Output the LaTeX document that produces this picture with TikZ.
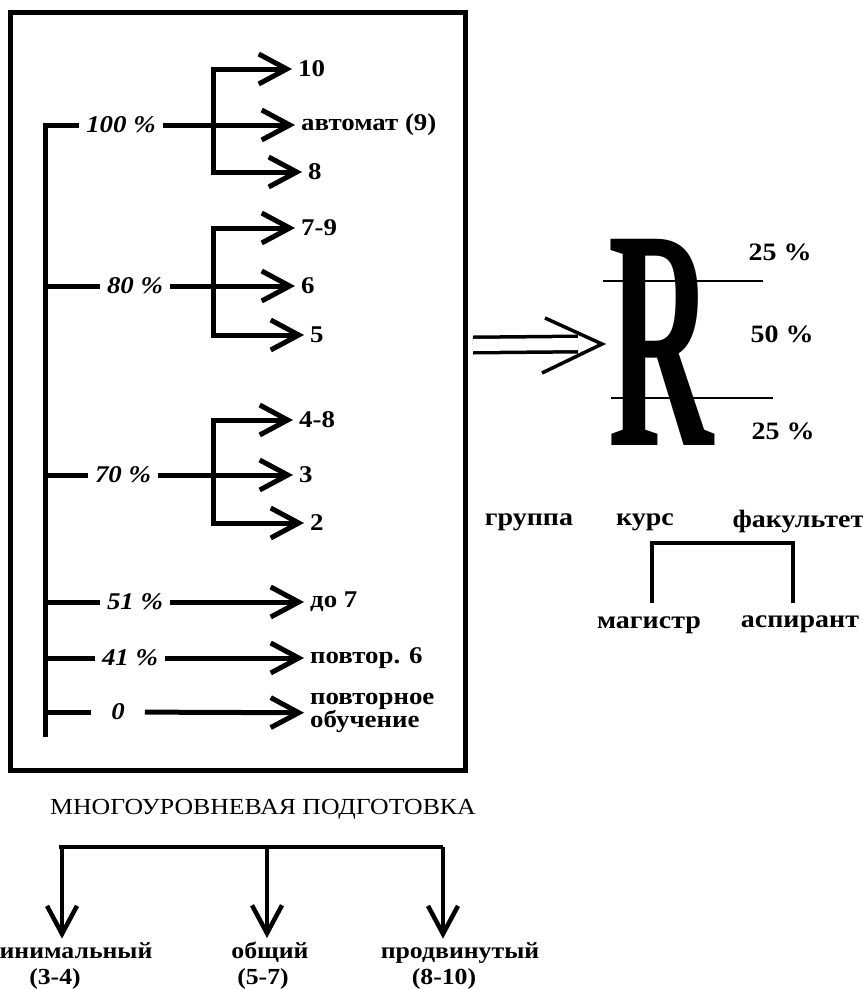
\documentclass[tikz,border=0pt]{standalone}
\usepackage{fontspec}
\setmainfont[FakeStretch=1.12]{Liberation Serif}
\usetikzlibrary{arrows.meta}

\begin{document}
\begin{tikzpicture}[x=1pt,y=-1pt,
  stem/.style={line width=5pt},
  arr/.style={line width=5pt,-{Straight Barb[length=28pt,width=30pt]}},
  pct/.style={font=\fontsize{24}{24}\selectfont\bfseries\itshape,inner xsep=7pt},
  grade/.style={font=\fontsize{24}{24}\selectfont\bfseries,anchor=west,inner xsep=6pt,inner ysep=2pt},
  share/.style={font=\fontsize{25}{25}\selectfont\bfseries},
  level/.style={font=\fontsize{23}{23}\selectfont\bfseries,anchor=base}]
  \useasboundingbox (0,0) rectangle (863,989);
  \draw [line width=5pt] (10,12) rectangle (465,770);
  % left column of percentages
  \node [pct] (p100) at (121,125) {100 \%};
  \node [pct] (p80) at (135,286) {80 \%};
  \node [pct] (p70) at (123,475) {70 \%};
  \node [pct] (p51) at (135,602) {51 \%};
  \node [pct] (p41) at (130,658) {41 \%};
  \node [pct,inner xsep=20pt] (p0) at (118,712) {0};
  % grades
  \node [grade] (g10) at (292,69) {10};
  \node [grade] (g9) at (295,125) {автомат (9)};
  \node [grade] (g8) at (302,172) {8};
  \node [grade] (g79) at (295,228) {7-9};
  \node [grade] (g6) at (295,286) {6};
  \node [grade] (g5) at (304,335) {5};
  \node [grade] (g48) at (293,420) {4-8};
  \node [grade] (g3) at (293,475) {3};
  \node [grade] (g2) at (304,523) {2};
  \node [grade] (g7) at (304,602) {до 7};
  \node [grade] (g6r) at (304,658) {повтор. 6};
  \node [grade,align=left,font=\fontsize{24}{19}\selectfont\bfseries] (gre) at (304,713) {повторное\\обучение};
  \draw [stem] (45,737) -- (45,125) -- (p100);
  \draw [stem] (45,286) -- (p80);
  \draw [stem] (45,475) -- (p70);
  \draw [stem] (45,602) -- (p51);
  \draw [stem] (45,658) -- (p41);
  \draw [stem] (45,712) -- (p0);
  \draw [arr] (p100) -- (g9);
  \draw [arr] (213,125) -- (213,69) -- (g10);
  \draw [arr] (213,125) -- (213,172) -- (g8);
  \draw [arr] (p80) -- (g6);
  \draw [arr] (213,286) -- (213,228) -- (g79);
  \draw [arr] (213,286) -- (213,335) -- (g5);
  \draw [arr] (p70) -- (g3);
  \draw [arr] (213,475) -- (213,420) -- (g48);
  \draw [arr] (213,475) -- (213,523) -- (g2);
  \draw [arr] (p51) -- (g7);
  \draw [arr] (p41) -- (g6r);
  \draw [arr] (p0) -- (gre);
  % rating R
  \node [font=\fontsize{50}{50}\selectfont\bfseries,xscale=2.6,yscale=6.3,inner sep=0] (R) at (661,342) {R};
  \coordinate (dtail) at (473,345);
  \coordinate (dtip) at (602,344);
  \draw [line width=3.5pt,double,double distance=12pt] (dtail) -- ([xshift=-24pt]dtip);
  \draw [line width=3.5pt] ([shift={(-57,-26)}]dtip) -- (dtip) -- ([shift={(-60,29)}]dtip);
  \draw [line width=1.5pt] (603,281) -- (763,281);
  \draw [line width=1.5pt] (611,398) -- (773,398);
  \node [share] (s1) at (780,252) {25 \%};
  \node [share] (s2) at (782,334) {50 \%};
  \node [share] (s3) at (783,431) {25 \%};
  \node [share] (grp) at (529,522) {группа};
  \node [share] (crs) at (645,522) {курс};
  \node [share,anchor=west] (fac) at (729,522) {факультет};
  \node [share] (mag) at (649,625) {магистр};
  \node [share] (asp) at (800,624) {аспирант};
  \coordinate (kmag) at (652,603);
  \coordinate (kasp) at (793,603);
  \draw [line width=3.5pt] (kmag) -- ++(0,-60) -| (kasp);
  % levels
  \node [font=\fontsize{23}{23}\selectfont] (title) at (263,809) {МНОГОУРОВНЕВАЯ ПОДГОТОВКА};
  \node [level,anchor=base east] (lmin) at (156,958) {минимальный};
  \node [level] (rmin) at (55,984) {(3-4)};
  \node [level] (lgen) at (270,958) {общий};
  \node [level] (rgen) at (263,984) {(5-7)};
  \node [level] (ladv) at (460,958) {продвинутый};
  \node [level] (radv) at (444,984) {(8-10)};
  \coordinate (fmin) at (62,847);
  \coordinate (fgen) at (267,847);
  \coordinate (fadv) at (443,847);
  \draw [line width=4.5pt] ([xshift=-3pt]fmin) -- (fadv);
  \draw [arr,line width=4.5pt] (fmin) -- (fmin |- lmin.north);
  \draw [arr,line width=4.5pt] (fgen) -- (fgen |- lgen.north);
  \draw [arr,line width=4.5pt] (fadv) -- (fadv |- ladv.north);
\end{tikzpicture}
\end{document}
